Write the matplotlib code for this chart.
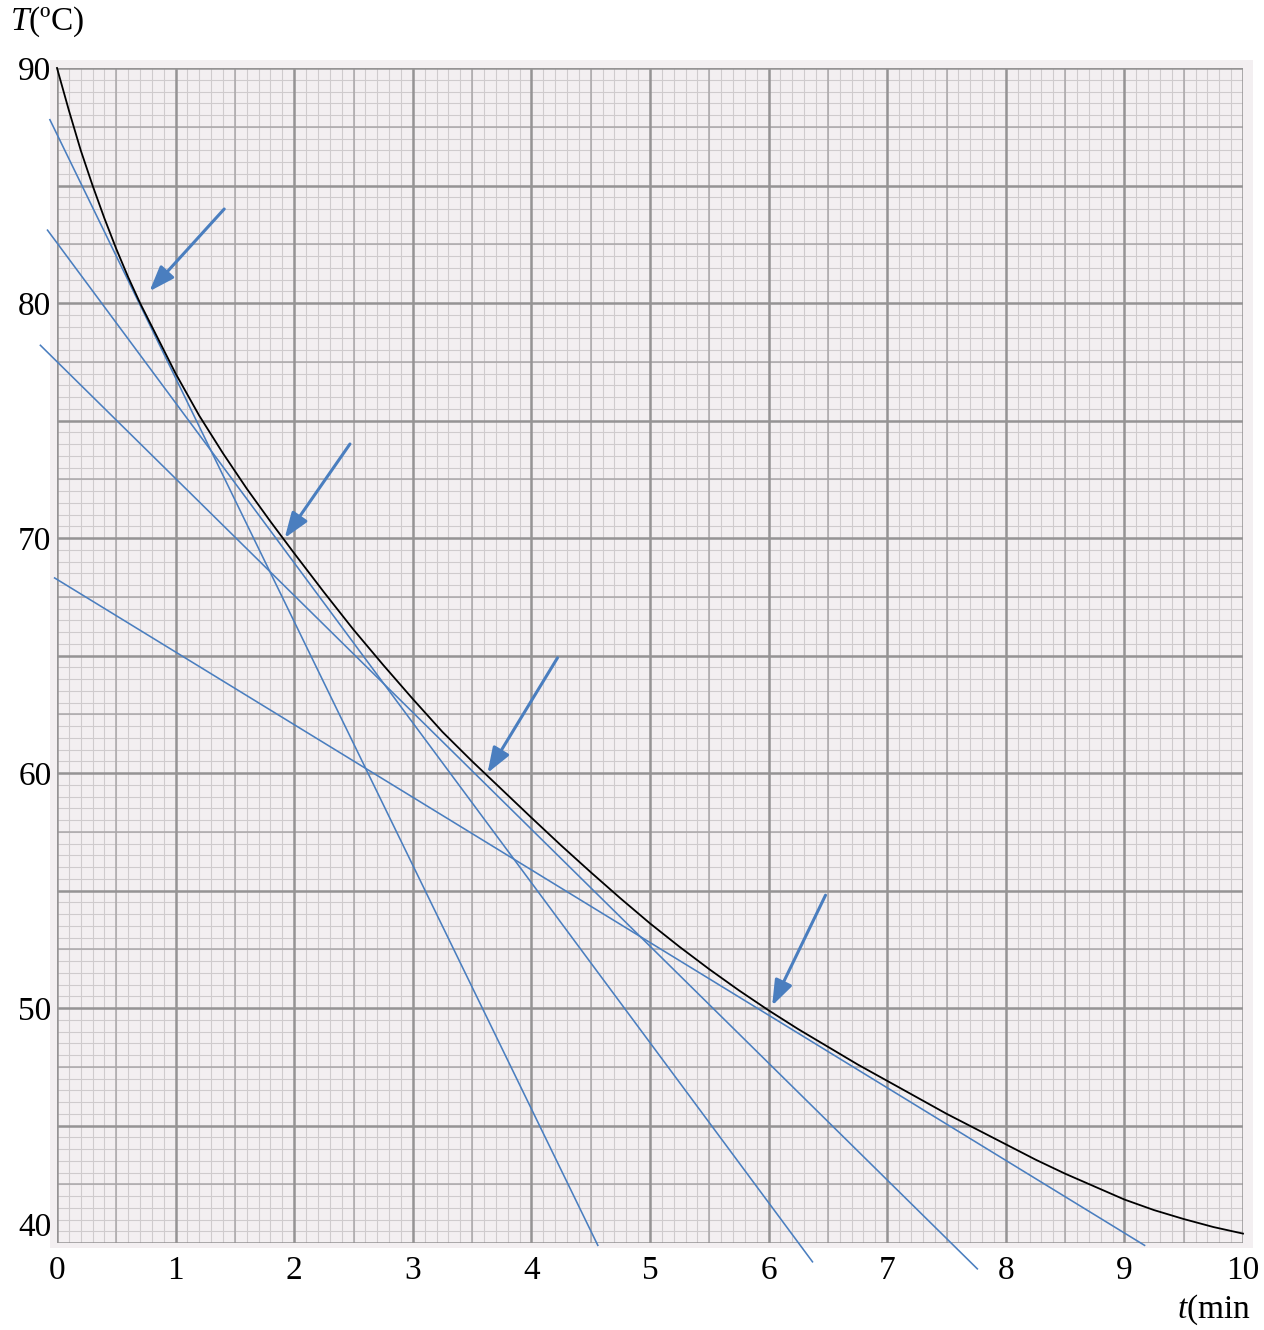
import numpy as np
import matplotlib
matplotlib.use("Agg")
import matplotlib.pyplot as plt
from matplotlib.patches import Rectangle

plt.rcParams['font.family'] = ['Liberation Serif', 'DejaVu Serif']
plt.rcParams['mathtext.fontset'] = 'custom'
plt.rcParams['mathtext.rm'] = 'Liberation Serif'
plt.rcParams['mathtext.it'] = 'Liberation Serif:italic'

# cooling curve (t in min, T in degC)
t_curve = [0, 0.1, 0.2, 0.3, 0.4, 0.5, 0.6, 0.7, 0.8, 0.9, 1.0, 1.2, 1.4, 1.6,
           1.8, 2.0, 2.25, 2.5, 2.75, 3.0, 3.25, 3.5, 3.75, 4.0, 4.25, 4.5,
           4.75, 5.0, 5.25, 5.5, 5.75, 6.0, 6.25, 6.5, 6.75, 7.0, 7.25, 7.5,
           7.75, 8.0, 8.25, 8.5, 8.75, 9.0, 9.25, 9.5, 9.75, 10.0]
T_curve = [90.0, 88.2, 86.5, 85.0, 83.6, 82.3, 81.1, 80.0, 79.0, 78.0, 77.0,
           75.2, 73.6, 72.1, 70.7, 69.35, 67.7, 66.1, 64.6, 63.15, 61.75, 60.5,
           59.3, 58.1, 56.92, 55.78, 54.67, 53.6, 52.6, 51.65, 50.75, 49.9,
           49.1, 48.35, 47.6, 46.9, 46.2, 45.5, 44.85, 44.2, 43.55, 42.95,
           42.4, 41.85, 41.4, 41.02, 40.68, 40.4]

# tangent lines: (t start, T start, t end, T end)
tangents = [
    (-0.06, 87.8, 4.56, 39.9),
    (-0.08, 83.1, 6.37, 39.2),
    (-0.14, 78.2, 7.76, 38.9),
    (-0.02, 68.3, 9.17, 39.9),
]

# arrows: (tail t, tail T, tip t, tip T)
arrows = [
    (1.41, 84.0, 0.78, 80.5),
    (2.47, 74.0, 1.92, 70.0),
    (4.22, 64.9, 3.63, 60.0),
    (6.48, 54.8, 6.03, 50.1),
]

x_ticks = list(range(0, 11))
y_ticks = [40, 50, 60, 70, 80, 90]

blue = '#4a7ebf'
paper = '#f3eff1'

fig = plt.figure(figsize=(12.64, 13.30), dpi=100)
fig.patches.append(Rectangle((50 / 1264, 1 - 1248 / 1330), 1203 / 1264, 1188 / 1330,
                             transform=fig.transFigure, facecolor=paper,
                             edgecolor='none', zorder=-10))
ax = fig.add_axes([57 / 1264, 87 / 1330, 1186 / 1264, 1175 / 1330])
ax.set_facecolor(paper)
ax.set_xlim(0, 10)
ax.set_ylim(40, 90)

# graph paper
fine_x = np.arange(0, 10.001, 0.1)
fine_y = np.arange(40, 90.001, 0.5)
ax.vlines(fine_x, 40, 90, color='#cfcbcd', lw=0.8, zorder=1)
ax.hlines(fine_y, 0, 10, color='#cfcbcd', lw=0.8, zorder=1)
ax.vlines(np.arange(0.5, 10, 1.0), 40, 90, color='#aaa7a9', lw=1.1, zorder=1)
ax.hlines(np.arange(42.5, 90, 5.0), 0, 10, color='#aaa7a9', lw=1.1, zorder=1)
ax.vlines(np.arange(0, 10.001, 1.0), 40, 90, color='#959394', lw=1.8, zorder=2)
ax.hlines(np.arange(40, 90.001, 5.0), 0, 10, color='#959394', lw=1.8, zorder=2)

for s in ax.spines.values():
    s.set_visible(False)

ax.set_xticks(x_ticks)
ax.set_yticks(y_ticks)
ax.tick_params(length=0, labelsize=24, pad=9)
ax.tick_params(axis='y', pad=4)
ax.get_yticklabels()[0].set_va('bottom')

for t0, T0, t1, T1 in tangents:
    ax.plot([t0, t1], [T0, T1], color=blue, lw=1.15, zorder=4, clip_on=False)

ax.plot(t_curve, T_curve, color='black', lw=1.3, zorder=5, clip_on=False,
        solid_joinstyle='round')

for t0, T0, t1, T1 in arrows:
    ax.annotate('', xy=(t1, T1), xytext=(t0, T0),
                arrowprops=dict(arrowstyle='-|>,head_length=0.55,head_width=0.2',
                                color=blue, lw=2.2, mutation_scale=28,
                                shrinkA=0, shrinkB=0), zorder=6)

fig.text(10 / 1264, 1 - 22 / 1330, r'$T$(ºC)', fontsize=24, va='center', ha='left')
fig.text(1251 / 1264, 1 - 1310 / 1330, r'$t$(min', fontsize=24, va='center', ha='right')

fig.savefig('out.png', dpi=100)
